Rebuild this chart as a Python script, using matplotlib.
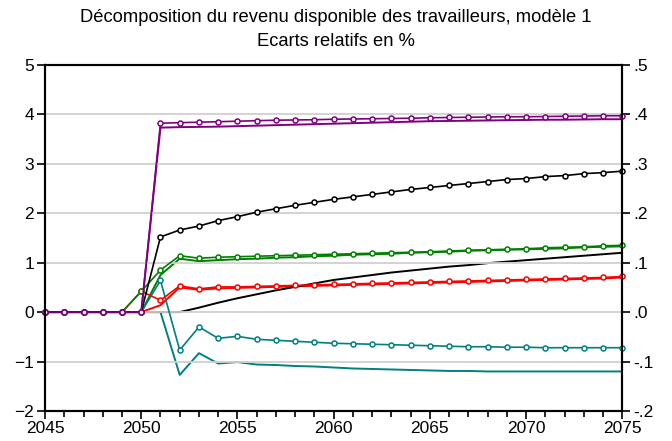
import numpy as np
import matplotlib
matplotlib.use('Agg')
import matplotlib.pyplot as plt
from matplotlib.ticker import MultipleLocator, FuncFormatter

plt.rcParams['font.family'] = ['Liberation Sans', 'DejaVu Sans']

years = list(range(2045, 2076))

# series with markers (left axis, %)
purple_m = [0, 0, 0, 0, 0, 0,
            3.82, 3.83, 3.84, 3.85, 3.86, 3.87, 3.88, 3.885, 3.89, 3.90,
            3.905, 3.91, 3.915, 3.92, 3.93, 3.935, 3.94, 3.945, 3.95, 3.95,
            3.955, 3.96, 3.965, 3.97, 3.97]
black_m = [0, 0, 0, 0, 0, 0,
           1.52, 1.66, 1.74, 1.85, 1.93, 2.02, 2.09, 2.16, 2.22, 2.28,
           2.33, 2.38, 2.43, 2.48, 2.52, 2.56, 2.60, 2.64, 2.68, 2.70,
           2.74, 2.76, 2.80, 2.82, 2.85]
green_m = [0, 0, 0, 0, 0, 0.42,
           0.85, 1.14, 1.09, 1.11, 1.12, 1.13, 1.14, 1.15, 1.16, 1.17,
           1.18, 1.19, 1.20, 1.21, 1.22, 1.235, 1.25, 1.26, 1.27, 1.28,
           1.30, 1.31, 1.32, 1.34, 1.35]
red_m = [0, 0, 0, 0, 0, 0.42,
         0.24, 0.53, 0.47, 0.51, 0.51, 0.52, 0.53, 0.54, 0.55, 0.56,
         0.57, 0.58, 0.59, 0.60, 0.61, 0.62, 0.63, 0.64, 0.65, 0.66,
         0.67, 0.68, 0.69, 0.70, 0.72]
teal_m = [0, 0, 0, 0, 0, 0,
          0.64, -0.77, -0.30, -0.53, -0.49, -0.55, -0.57, -0.59, -0.61, -0.63,
          -0.64, -0.65, -0.66, -0.67, -0.68, -0.69, -0.70, -0.70, -0.71, -0.71,
          -0.72, -0.72, -0.72, -0.72, -0.72]

# series without markers (right axis)
purple_r = [0, 0, 0, 0, 0, 0,
            .373, .374, .3745, .375, .376, .377, .378, .379, .380, .381,
            .382, .383, .384, .385, .386, .3865, .387, .3875, .388, .3885,
            .389, .389, .3895, .390, .390]
black_r = [0, 0, 0, 0, 0, 0, 0, 0,
           .009, .019, .028, .036, .044, .051, .058, .065,
           .070, .075, .080, .084, .088, .092, .095, .099, .102, .105,
           .108, .111, .114, .117, .120]
green_r = [0, 0, 0, 0, 0, 0,
           .075, .108, .103, .105, .107, .108, .110, .111, .113, .114,
           .116, .117, .118, .120, .121, .122, .124, .125, .126, .127,
           .128, .129, .131, .132, .133]
red_r = [0, 0, 0, 0, 0, 0,
         .014, .050, .045, .048, .049, .050, .051, .052, .053, .054,
         .055, .056, .057, .058, .059, .060, .061, .062, .063, .064,
         .065, .066, .067, .068, .070]
teal_r = [0, 0, 0, 0, 0, 0, 0,
          -.127, -.083, -.104, -.101, -.106, -.107, -.109, -.110, -.112,
          -.114, -.115, -.116, -.117, -.118, -.119, -.119, -.120, -.120, -.120,
          -.120, -.120, -.120, -.120, -.120]

PURPLE = '#800080'
BLACK = '#000000'
GREEN = '#008000'
RED = '#ff0000'
TEAL = '#008080'

fig = plt.figure(figsize=(6.72, 4.41), dpi=100)
ax = fig.add_axes([0.067, 0.068, 0.859, 0.785])
ax2 = ax.twinx()

ax.set_xlim(2045, 2075)
ax.set_ylim(-2, 5)
ax2.set_ylim(-0.2, 0.5)

for y in range(-1, 5):
    ax.axhline(y, color='#d0d0d0', lw=1.3, zorder=0)

ax2.set_zorder(1)
ax.set_zorder(2)
ax.patch.set_visible(False)

for vals, c in [(teal_r, TEAL), (red_r, RED), (green_r, GREEN), (black_r, BLACK), (purple_r, PURPLE)]:
    ax2.plot(years, vals, color=c, lw=1.4)

for vals, c in [(teal_m, TEAL), (red_m, RED), (green_m, GREEN), (black_m, BLACK), (purple_m, PURPLE)]:
    ax.plot(years, vals, color=c, lw=1.2, marker='o', ms=3.6,
            mfc='white', mec=c, mew=1.1, clip_on=False)

ax.xaxis.set_major_locator(MultipleLocator(5))
ax.xaxis.set_minor_locator(MultipleLocator(1))
ax.yaxis.set_major_locator(MultipleLocator(1))
ax2.yaxis.set_major_locator(MultipleLocator(0.1))


def right_fmt(v, pos):
    s = '%.1f' % v
    if s == '-0.0':
        s = '0.0'
    return s.replace('0.', '.', 1)


ax2.yaxis.set_major_formatter(FuncFormatter(right_fmt))

ax.tick_params(axis='both', which='both', direction='out', labelsize=12.5, width=1.2)
ax.tick_params(axis='x', which='major', length=6, pad=1)
ax.tick_params(axis='x', which='minor', length=4)
ax.tick_params(axis='y', length=6, pad=2)
ax2.tick_params(axis='y', direction='out', length=6, width=1.2, labelsize=12.5, pad=2)

for a in (ax, ax2):
    for s in a.spines.values():
        s.set_linewidth(1.5)

fig.text(0.5, 1 - 18 / 441, 'Décomposition du revenu disponible des travailleurs, modèle 1',
         ha='center', va='center', fontsize=13.2)
fig.text(0.5, 1 - 42 / 441, 'Ecarts relatifs en %',
         ha='center', va='center', fontsize=13.2)

fig.savefig('out.png', dpi=100)
